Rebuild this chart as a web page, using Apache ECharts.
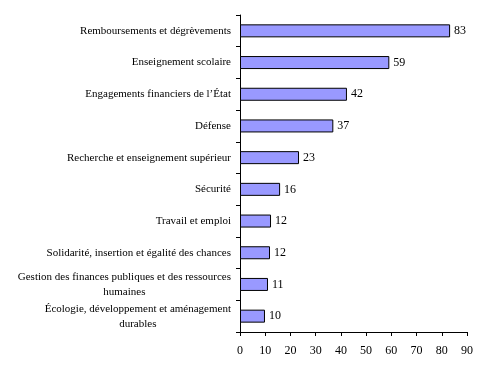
<!DOCTYPE html>
<html><head><meta charset="utf-8">
<script src="https://cdn.jsdelivr.net/npm/echarts@6/dist/echarts.min.js"></script>
<style>html,body{margin:0;padding:0;background:#fff}#c{width:490px;height:378px}</style>
</head><body><div id="c"></div>
<script>
var categories = [
  "Remboursements et dégrèvements",
  "Enseignement scolaire",
  "Engagements financiers de l’État",
  "Défense",
  "Recherche et enseignement supérieur",
  "Sécurité",
  "Travail et emploi",
  "Solidarité, insertion et égalité des chances",
  "Gestion des finances publiques et des ressources\nhumaines",
  "Écologie, développement et aménagement\ndurables"
];
var values = [83.3, 59.2, 42.4, 37.0, 23.4, 15.9, 12.3, 11.9, 11.1, 9.9];
var xTicks = [0, 10, 20, 30, 40, 50, 60, 70, 80, 90];

var font = "'Liberation Serif', 'Times New Roman', serif";
var chart = echarts.init(document.getElementById('c'), null, {renderer: 'canvas'});
chart.setOption({
  animation: false,
  backgroundColor: '#fff',
  grid: {left: 240, right: 23, top: 15, bottom: 46, containLabel: false},
  xAxis: {
    type: 'value', min: xTicks[0], max: xTicks[xTicks.length - 1], interval: 10,
    splitLine: {show: false},
    axisLine: {show: true, lineStyle: {color: '#000', width: 1}},
    axisTick: {show: true, length: 4, lineStyle: {color: '#000'}},
    axisLabel: {color: '#000', fontFamily: font, fontSize: 12, margin: 13}
  },
  yAxis: {
    type: 'category', inverse: true, data: categories,
    axisLine: {show: true, lineStyle: {color: '#000', width: 1}},
    axisTick: {show: true, length: 4, alignWithLabel: false, lineStyle: {color: '#000'}},
    axisLabel: {
      color: '#000', fontFamily: font, fontSize: 11, margin: 9, lineHeight: 15,
      formatter: function (v) {
        return v.split('\n').map(function (s) { return '{c|' + s + '}'; }).join('\n');
      },
      rich: {c: {align: 'center', fontFamily: font, fontSize: 11, color: '#000', lineHeight: 15}}
    }
  },
  series: [{
    type: 'bar', data: values, barWidth: 13,
    itemStyle: {color: '#9999FF', borderColor: '#000', borderWidth: 1},
    label: {
      show: true, position: 'right', distance: 4, color: '#000',
      fontFamily: font, fontSize: 12,
      formatter: function (p) { return Math.round(p.value); }
    }
  }]
});
</script></body></html>
